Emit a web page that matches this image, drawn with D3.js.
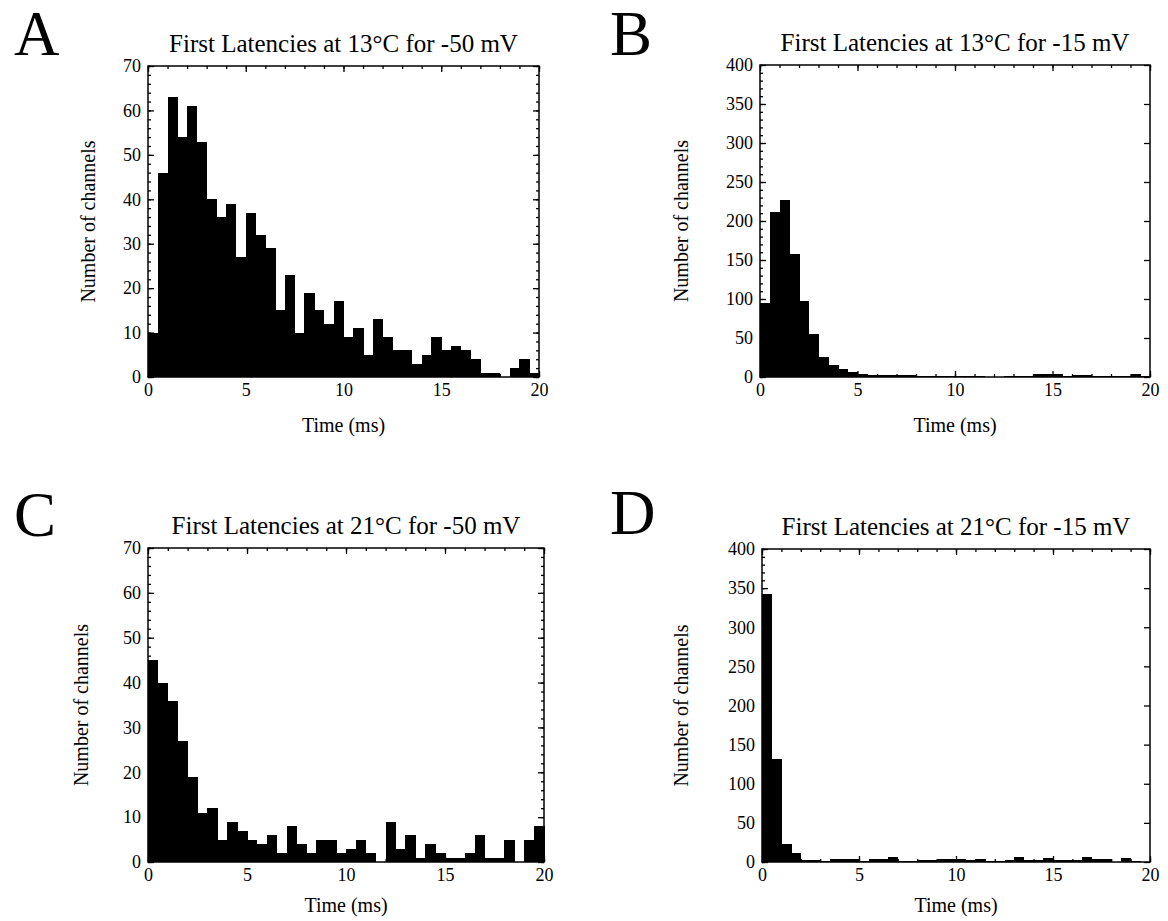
<!DOCTYPE html>
<html>
<head>
<meta charset="utf-8">
<script src="https://cdn.jsdelivr.net/npm/d3@7"></script>
<style>
  body { margin: 0; background: #fff; }
  text { font-family: "Liberation Serif", "DejaVu Serif", serif; fill: #000; }
</style>
</head>
<body>
<div id="chart"></div>
<script>
// bin starts in ms (0.5 ms bins, 0 - 20 ms)
const binStarts = d3.range(40).map(i => i * 0.5);

// counts per bin
const lat13_50 = [10, 46, 63, 54, 61, 53, 40, 36, 39, 27, 37, 32, 29, 15, 23, 10, 19, 15, 12, 17,
  9, 11, 5, 13, 9, 6, 6, 3, 5, 9, 6, 7, 6, 4, 1, 1, 0, 2, 4, 1];
const lat13_15 = [95, 212, 227, 158, 97, 55, 26, 15, 10, 6, 4, 2, 3, 3, 2, 2, 1, 1, 1, 1,
  1, 1, 1, 0, 0, 1, 1, 1, 4, 4, 4, 1, 3, 3, 1, 1, 1, 1, 4, 1];
const lat21_50 = [45, 40, 36, 27, 19, 11, 12, 5, 9, 7, 5, 4, 6, 2, 8, 4, 2, 5, 5, 2,
  3, 5, 2, 0, 9, 3, 6, 1, 4, 2, 1, 1, 2, 6, 1, 1, 5, 0, 5, 8];
const lat21_15 = [343, 132, 23, 11, 2, 2, 1, 4, 4, 4, 1, 4, 4, 6, 1, 1, 2, 2, 4, 4,
  4, 2, 4, 1, 1, 2, 6, 2, 2, 5, 3, 3, 2, 7, 4, 4, 0, 5, 1, 0];

const panelLetters = ["A", "B", "C", "D"];
const panelTitles = [
  "First Latencies at 13°C for -50 mV",
  "First Latencies at 13°C for -15 mV",
  "First Latencies at 21°C for -50 mV",
  "First Latencies at 21°C for -15 mV"
];
const xTicks = [0, 5, 10, 15, 20];

const width = 1168, height = 921;

const svg = d3.select("#chart").append("svg")
  .attr("width", width)
  .attr("height", height);

const panels = [
  { values: lat13_50, yMax: 70, yStep: 10, yMinor: 2, left: 148, top: 66, w: 391, h: 311, letterX: 14, letterY: 55, yLabelX: 95, xLabelDy: 55 },
  { values: lat13_15, yMax: 400, yStep: 50, yMinor: 10, left: 760, top: 65, w: 390, h: 312, letterX: 610, letterY: 55, yLabelX: 688, xLabelDy: 55 },
  { values: lat21_50, yMax: 70, yStep: 10, yMinor: 2, left: 148, top: 548, w: 396, h: 314, letterX: 14, letterY: 536, yLabelX: 88, xLabelDy: 50 },
  { values: lat21_15, yMax: 400, yStep: 50, yMinor: 10, left: 762, top: 549, w: 388, h: 313, letterX: 610, letterY: 534, yLabelX: 688, xLabelDy: 50 }
];

panels.forEach((p, k) => {
  const x = d3.scaleLinear().domain([0, 20]).range([0, p.w]);
  const y = d3.scaleLinear().domain([0, p.yMax]).range([p.h, 0]);

  svg.append("text")
    .attr("x", p.letterX)
    .attr("y", p.letterY)
    .attr("font-size", 63)
    .text(panelLetters[k]);

  const g = svg.append("g").attr("transform", `translate(${p.left},${p.top})`);

  g.append("text")
    .attr("x", p.w / 2)
    .attr("y", -14)
    .attr("text-anchor", "middle")
    .attr("font-size", 25)
    .text(panelTitles[k]);

  // bars
  g.append("g")
    .selectAll("rect")
    .data(p.values)
    .join("rect")
    .attr("x", (d, i) => x(binStarts[i]))
    .attr("width", (d, i) => x(binStarts[i] + 0.5) - x(binStarts[i]) + 0.5)
    .attr("y", d => y(d))
    .attr("height", d => y(0) - y(d))
    .attr("fill", "#000")
    .attr("shape-rendering", "crispEdges");

  const yMajor = d3.range(0, p.yMax + 1, p.yStep);
  const yMinorT = d3.range(0, p.yMax + 1, p.yMinor);
  const xMinorT = d3.range(0, 21, 1);

  // left axis with labels, ticks pointing inward
  g.append("g")
    .call(d3.axisLeft(y).tickValues(yMajor).tickSize(-6).tickPadding(7).tickFormat(d3.format("d")))
    .call(a => a.select(".domain").remove())
    .call(a => a.selectAll("text").attr("font-size", 18).attr("font-family", "Liberation Serif"));
  g.append("g")
    .call(d3.axisLeft(y).tickValues(yMinorT).tickSize(-3).tickFormat(""))
    .call(a => a.select(".domain").remove());

  // right axis, ticks only
  g.append("g")
    .attr("transform", `translate(${p.w},0)`)
    .call(d3.axisRight(y).tickValues(yMajor).tickSize(-6).tickFormat(""))
    .call(a => a.select(".domain").remove());
  if (p.yMax < 100) {
    g.append("g")
      .attr("transform", `translate(${p.w},0)`)
      .call(d3.axisRight(y).tickValues(yMinorT).tickSize(-3).tickFormat(""))
      .call(a => a.select(".domain").remove());
  }

  // bottom axis with labels
  g.append("g")
    .attr("transform", `translate(0,${p.h})`)
    .call(d3.axisBottom(x).tickValues(xTicks).tickSize(-6).tickPadding(6).tickFormat(d3.format("d")))
    .call(a => a.select(".domain").remove())
    .call(a => a.selectAll("text").attr("font-size", 18).attr("font-family", "Liberation Serif"));
  g.append("g")
    .attr("transform", `translate(0,${p.h})`)
    .call(d3.axisBottom(x).tickValues(xMinorT).tickSize(-3).tickFormat(""))
    .call(a => a.select(".domain").remove());

  // top axis, ticks only
  g.append("g")
    .call(d3.axisTop(x).tickValues(xTicks).tickSize(-6).tickFormat(""))
    .call(a => a.select(".domain").remove());
  g.append("g")
    .call(d3.axisTop(x).tickValues(xMinorT).tickSize(-3).tickFormat(""))
    .call(a => a.select(".domain").remove());

  g.selectAll(".tick line").attr("stroke", "#000").attr("stroke-width", 1.3);

  // frame
  g.append("rect")
    .attr("width", p.w)
    .attr("height", p.h)
    .attr("fill", "none")
    .attr("stroke", "#000")
    .attr("stroke-width", 1.5);

  g.append("text")
    .attr("x", p.w / 2)
    .attr("y", p.h + p.xLabelDy)
    .attr("text-anchor", "middle")
    .attr("font-size", 20)
    .text("Time (ms)");

  g.append("text")
    .attr("transform", `translate(${p.yLabelX - p.left},${p.h / 2}) rotate(-90)`)
    .attr("text-anchor", "middle")
    .attr("font-size", 20)
    .text("Number of channels");
});
</script>
</body>
</html>
